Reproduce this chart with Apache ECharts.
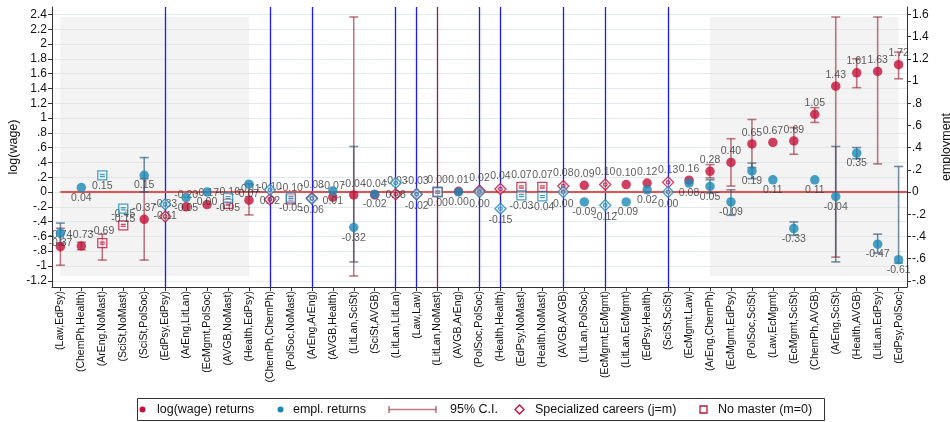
<!DOCTYPE html>
<html>
<head>
<meta charset="utf-8">
<script src="https://cdn.jsdelivr.net/npm/echarts@6/dist/echarts.min.js"></script>
<style>
  html, body { margin: 0; padding: 0; background: #fff; }
  #chart { width: 950px; height: 422px; }
</style>
</head>
<body>
<div id="chart"></div>
<script>
// Field-of-study pairs (job field, master field), sorted by wage return
const categories = [
  'Law,EdPsy','ChemPh,Health','ArEng,NoMast','SciSt,NoMast','SciSt,PolSoc',
  'EdPsy,EdPsy','ArEng,LitLan','EcMgmt,PolSoc','AVGB,NoMast','Health,EdPsy',
  'ChemPh,ChemPh','PolSoc,NoMast','ArEng,ArEng','AVGB,Health','LitLan,SciSt',
  'SciSt,AVGB','LitLan,LitLan','Law,Law','LitLan,NoMast','AVGB,ArEng',
  'PolSoc,PolSoc','Health,Health','EdPsy,NoMast','Health,NoMast','AVGB,AVGB',
  'LitLan,PolSoc','EcMgmt,EcMgmt','LitLan,EcMgmt','EdPsy,Health','SciSt,SciSt',
  'EcMgmt,Law','ArEng,ChemPh','EcMgmt,EdPsy','PolSoc,SciSt','Law,EcMgmt',
  'EcMgmt,SciSt','ChemPh,AVGB','ArEng,SciSt','Health,AVGB','LitLan,EdPsy',
  'EdPsy,PolSoc'
];

// log(wage) returns (left axis)
const wageReturns = [
  -0.74,-0.73,-0.69,-0.45,-0.37,-0.33,-0.20,-0.17,-0.16,-0.11,
  -0.10,-0.10,-0.08,-0.07,-0.04,-0.04,-0.03,-0.03, 0.00, 0.01,
   0.02, 0.04, 0.07, 0.07, 0.08, 0.09, 0.10, 0.10, 0.12, 0.13,
   0.16, 0.28, 0.40, 0.65, 0.67, 0.69, 1.05, 1.43, 1.61, 1.63,
   1.72
];

// employment returns (right axis)
const emplReturns = [
  -0.37, 0.04, 0.15,-0.15, 0.15,-0.11,-0.05, 0.00,-0.05, 0.07,
   0.02,-0.05,-0.06, 0.01,-0.32,-0.02, 0.08,-0.02, 0.00, 0.00,
   0.00,-0.15,-0.03,-0.04, 0.00,-0.09,-0.12,-0.09, 0.02, 0.00,
   0.08, 0.05,-0.09, 0.19, 0.11,-0.33, 0.11,-0.04, 0.35,-0.47,
  -0.61
];

// 95% confidence bounds (null where no interval is drawn)
const wageLow = [
  -0.99,-0.78,-0.92, null,-0.92, null, null, null, null,-0.31,
   null, null, null, null,-1.135,null, null, null, null, null,
   null, null, null, null, null, null, null, null, null, null,
   null, 0.19, 0.08, 0.33, null, 0.51, 0.94,-0.88, 1.41, 0.38,
   1.53
];
const wageHigh = [
  -0.49,-0.68,-0.57, null, 0.18, null, null, null, null, 0.11,
   null, null, null, null, 2.365,null, null, null, null, null,
   null, null, null, null, null, null, null, null, null, null,
   null, 0.37, 0.72, 0.98, null, 0.87, 1.14, 2.365,1.80, 2.365,
   1.89
];
const emplLow = [
  -0.46, null, null, null, 0.00, null, null, null, null, null,
   null, null, null, null,-0.63, null, null, null, null, null,
   null, null, null, null, null, null, null, null, null, null,
   null,-0.01,-0.21, 0.12, null,-0.39, null,-0.63, 0.30,-0.55,
  -0.64
];
const emplHigh = [
  -0.28, null, null, null, 0.31, null, null, null, null, null,
   null, null, null, null, 0.41, null, null, null, null, null,
   null, null, null, null, null, null, null, null, null, null,
   null, 0.11, 0.02, 0.26, null,-0.27, null, 0.41, 0.40,-0.38,
   0.23
];

const leftTicks = [-1.2,-1,-0.8,-0.6,-0.4,-0.2,0,0.2,0.4,0.6,0.8,1,1.2,1.4,1.6,1.8,2,2.2,2.4];
const rightTicks = [-0.8,-0.6,-0.4,-0.2,0,0.2,0.4,0.6,0.8,1,1.2,1.4,1.6];

// shaded blocks of categories (bottom ten and top ten)
const shadedBlocks = [[1, 10], [32, 41]];
const referenceCategory = 'LitLan,NoMast';

const RED = '#c4123a';
const BLUE = '#1b88b6';
const RED_CI = 'rgba(150,40,55,0.62)';
const BLUE_CI = 'rgba(45,85,115,0.65)';
const FONT = '"Liberation Sans", Arial, sans-serif';

const isSpecialized = c => { const p = c.split(','); return p[0] === p[1]; };
const isNoMaster = c => c.split(',')[1] === 'NoMast';
const catIndex = categories.map((_, i) => i + 1);

const DIAMOND = 'path://M5,0 L10,5 L5,10 L0,5 Z M6.6,5 A1.6,1.6 0 1,1 3.4,5 A1.6,1.6 0 1,1 6.6,5 Z';
const SQUARE = 'path://M0,0 H10 V10 H0 Z M2.2,4 H7.8 M2.2,6.3 H7.8';

function stataNum(v) {
  const s = String(Math.round(v * 10) / 10);
  return s.replace(/^(-?)0\./, '$1.');
}

function markerItem(i, v, color) {
  const c = categories[i];
  if (isSpecialized(c)) {
    return { value: [i + 1, v], symbol: DIAMOND, symbolSize: 11,
      itemStyle: { color: 'rgba(255,255,255,0.55)', borderColor: color, borderWidth: 1.4 } };
  }
  if (isNoMaster(c)) {
    return { value: [i + 1, v], symbol: SQUARE, symbolSize: 9,
      itemStyle: { color: 'rgba(255,255,255,0.55)', borderColor: color, borderWidth: 1.3 } };
  }
  return { value: [i + 1, v], symbol: 'circle', symbolSize: 9.5, itemStyle: { color: color } };
}

function ciData(lo, hi) {
  const out = [];
  lo.forEach((l, i) => { if (l !== null && hi[i] !== null) out.push([i + 1, l, hi[i]]); });
  return out;
}

function ciRenderer(color) {
  return function (params, api) {
    const x = api.value(0);
    const p1 = api.coord([x, api.value(1)]);
    const p2 = api.coord([x, api.value(2)]);
    const w = 4.5;
    const st = { stroke: color, lineWidth: 1.6 };
    return { type: 'group', children: [
      { type: 'line', shape: { x1: p1[0], y1: p1[1], x2: p2[0], y2: p2[1] }, style: st },
      { type: 'line', shape: { x1: p1[0] - w, y1: p1[1], x2: p1[0] + w, y2: p1[1] }, style: st },
      { type: 'line', shape: { x1: p2[0] - w, y1: p2[1], x2: p2[0] + w, y2: p2[1] }, style: st }
    ]};
  };
}

const verticalLines = [];
categories.forEach((c, i) => {
  if (isSpecialized(c)) verticalLines.push({ xAxis: i + 1, lineStyle: { color: '#1a1aff', width: 1.3, type: 'solid' } });
  if (c === referenceCategory) verticalLines.push({ xAxis: i + 1, lineStyle: { color: '#a8163c', width: 1.3, type: 'solid' } });
});

const chart = echarts.init(document.getElementById('chart'), null, { renderer: 'canvas' });

const legendY = 409.5;
const legendText = (x, t) => ({ type: 'text', x: x, y: legendY, z: 100,
  style: { text: t, font: '12.5px ' + FONT, fill: '#111', verticalAlign: 'middle' } });

chart.setOption({
  animation: false,
  backgroundColor: '#fff',
  grid: { left: 52, right: 43, top: 7, bottom: 135, outerBoundsMode: 'none' },
  xAxis: {
    type: 'value', min: 0.6, max: 41.4,
    axisLine: { show: true, onZero: false, lineStyle: { color: '#333', width: 1 } },
    axisTick: { show: true, customValues: catIndex, length: 4, lineStyle: { color: '#333' } },
    axisLabel: {
      customValues: catIndex, rotate: 90, margin: 4, fontSize: 10.5, fontFamily: FONT, color: '#111',
      formatter: v => '(' + categories[Math.round(v) - 1] + ')'
    },
    splitLine: { show: false }
  },
  yAxis: [
    {
      type: 'value', min: -1.284, max: 2.5, position: 'left',
      name: 'log(wage)', nameLocation: 'middle', nameGap: 32, nameRotate: 90, nameMoveOverlap: false,
      nameTextStyle: { fontSize: 12.5, fontFamily: FONT, color: '#111' },
      axisLine: { show: true, lineStyle: { color: '#333', width: 1 } },
      axisTick: { show: true, customValues: leftTicks, length: 4, lineStyle: { color: '#333' } },
      axisLabel: { customValues: leftTicks, margin: 5, fontSize: 12, fontFamily: FONT, color: '#111', formatter: stataNum },
      splitLine: { show: true, lineStyle: { color: '#e3eaed', width: 1 } }
    },
    {
      type: 'value', min: -0.856, max: 1.66667, position: 'right',
      name: 'employment', nameLocation: 'middle', nameGap: 30, nameRotate: 90,
      nameTextStyle: { fontSize: 12.5, fontFamily: FONT, color: '#111' },
      axisLine: { show: true, lineStyle: { color: '#333', width: 1 } },
      axisTick: { show: true, customValues: rightTicks, length: 4, lineStyle: { color: '#333' } },
      axisLabel: { customValues: rightTicks, margin: 5, fontSize: 12, fontFamily: FONT, color: '#111', formatter: stataNum },
      splitLine: { show: false }
    }
  ],
  series: [
    {
      name: 'wage CI', type: 'custom', xAxisIndex: 0, yAxisIndex: 0, z: 3,
      renderItem: ciRenderer(RED_CI), data: ciData(wageLow, wageHigh),
      markArea: {
        silent: true, z: 1,
        itemStyle: { color: 'rgba(228,228,228,0.45)' },
        data: shadedBlocks.map(b => [{ xAxis: b[0], yAxis: 2.365 }, { xAxis: b[1], yAxis: -1.135 }])
      },
      markLine: {
        silent: true, symbol: 'none', label: { show: false }, z: 2,
        data: verticalLines.concat([[
          { coord: [1, 0], lineStyle: { color: '#e55050', width: 2, type: 'solid' } },
          { coord: [41.4, 0] }
        ]])
      }
    },
    {
      name: 'empl CI', type: 'custom', xAxisIndex: 0, yAxisIndex: 1, z: 4,
      renderItem: ciRenderer(BLUE_CI), data: ciData(emplLow, emplHigh)
    },
    {
      name: 'log(wage) returns', type: 'scatter', xAxisIndex: 0, yAxisIndex: 0, z: 5,
      data: wageReturns.map((v, i) => markerItem(i, v, RED)),
      label: { show: true, position: 'top', distance: 1, fontSize: 10.5, fontFamily: FONT, color: '#333',
        formatter: p => p.value[1].toFixed(2) }
    },
    {
      name: 'empl. returns', type: 'scatter', xAxisIndex: 0, yAxisIndex: 1, z: 6,
      data: emplReturns.map((v, i) => markerItem(i, v, BLUE)),
      label: { show: true, position: 'bottom', distance: 0, fontSize: 10.5, fontFamily: FONT, color: '#333',
        formatter: p => p.value[1].toFixed(2) }
    }
  ],
  graphic: [
    { type: 'rect', z: 99, shape: { x: 137.5, y: 398.5, width: 687, height: 22 },
      style: { fill: '#fff', stroke: '#333', lineWidth: 1 } },
    { type: 'circle', z: 100, shape: { cx: 142.5, cy: legendY, r: 3 }, style: { fill: RED } },
    legendText(157, 'log(wage) returns'),
    { type: 'circle', z: 100, shape: { cx: 280.5, cy: legendY, r: 3 }, style: { fill: BLUE } },
    legendText(293, 'empl. returns'),
    { type: 'line', z: 100, shape: { x1: 389, y1: legendY, x2: 436, y2: legendY }, style: { stroke: RED_CI, lineWidth: 1.6 } },
    { type: 'line', z: 100, shape: { x1: 389, y1: legendY - 3.5, x2: 389, y2: legendY + 3.5 }, style: { stroke: RED_CI, lineWidth: 1.6 } },
    { type: 'line', z: 100, shape: { x1: 436, y1: legendY - 3.5, x2: 436, y2: legendY + 3.5 }, style: { stroke: RED_CI, lineWidth: 1.6 } },
    legendText(450, '95% C.I.'),
    { type: 'polygon', z: 100, shape: { points: [[519.5, legendY - 4.5], [524, legendY], [519.5, legendY + 4.5], [515, legendY]] },
      style: { fill: 'none', stroke: RED, lineWidth: 1.4 } },
    legendText(535, 'Specialized careers (j=m)'),
    { type: 'rect', z: 100, shape: { x: 700, y: legendY - 3.5, width: 7, height: 7 },
      style: { fill: 'none', stroke: RED, lineWidth: 1.3 } },
    legendText(718, 'No master (m=0)')
  ]
});
</script>
</body>
</html>
